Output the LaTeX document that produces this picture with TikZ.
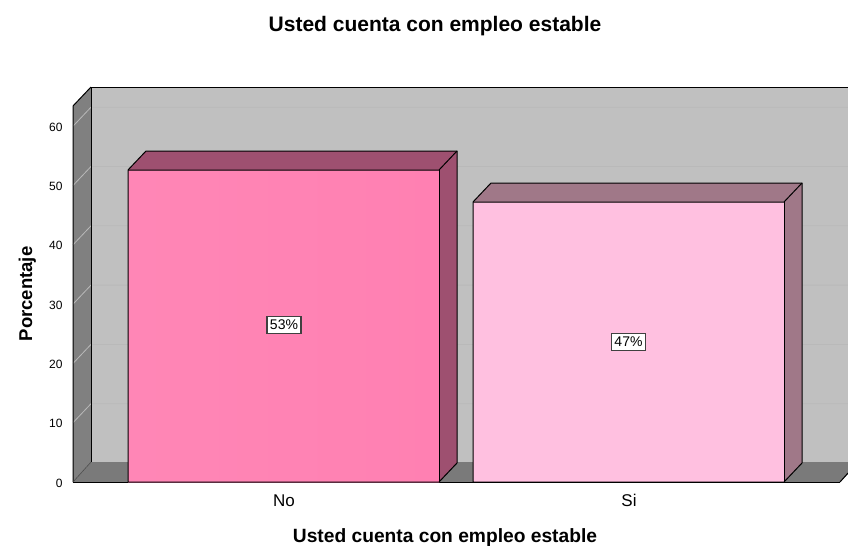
\documentclass[tikz,border=0pt]{standalone}
\usepackage{fontspec}
\setmainfont{Liberation Sans}
\begin{document}
\begin{tikzpicture}[x=1pt,y=-1pt,
  edge/.style={draw=black,line width=1pt,line join=round},
  grid/.style={draw=gray!55!white,line width=0.8pt},
  tick/.style={font=\fontsize{12}{14}\selectfont,anchor=east},
  pct/.style={draw=black!75,fill=white,line width=1.2pt,inner xsep=3pt,inner ysep=3.5pt,font=\fontsize{14}{15}\selectfont},
  cat/.style={font=\fontsize{17}{19}\selectfont,anchor=base}]
\useasboundingbox (0,0) rectangle (848,549);
\definecolor{wall}{HTML}{C0C0C0}
\definecolor{sidewall}{HTML}{808080}
\definecolor{floorc}{HTML}{7A7A7A}
\definecolor{noface}{HTML}{FF80B2}
\definecolor{nodark}{HTML}{9E5070}
\definecolor{siface}{HTML}{FFC0E0}
\definecolor{sidark}{HTML}{A07888}
\begin{scope}
\clip (0,0) rectangle (848,549);
% back wall
\fill[wall] (91,87) rectangle (860,462);
% side wall
\fill[sidewall] (73,106) -- (91,87) -- (91,462) -- (73,482) -- cycle;
% grid lines
\foreach \v in {10,20,...,60}{
  \draw[grid] (73,{482-5.93*\v}) -- (91,{463-5.93*\v}) -- (860,{463-5.93*\v});
}
% floor
\fill[floorc] (73,482) -- (91,462) -- (860,462) -- (840,482) -- cycle;
\draw[edge] (73,482) -- (840,482);
\draw[edge] (840,482) -- (848,473);
\draw[edge] (91,462) -- (91,87) -- (860,87);
\draw[edge] (73,482) -- (73,106) -- (91,87);
\draw[line width=0.6pt,draw=black!70] (73,482) -- (91,462);
\end{scope}
% bar No
\fill[left color=noface!95!white,right color=noface] (128,170) rectangle (439,482);
\fill[nodark] (128,170) -- (146,151) -- (457,151) -- (439,170) -- cycle;
\fill[nodark] (439,170) -- (457,151) -- (457,463) -- (439,482) -- cycle;
\draw[edge] (128,482) -- (128,170) -- (146,151) -- (457,151) -- (457,463) -- (439,482) -- cycle;
\draw[edge] (128,170) -- (439,170) -- (457,151);
\draw[edge] (439,170) -- (439,482);
% bar Si
\fill[siface] (473,202) rectangle (784,482);
\fill[sidark] (473,202) -- (491,183) -- (802,183) -- (784,202) -- cycle;
\fill[sidark] (784,202) -- (802,183) -- (802,463) -- (784,482) -- cycle;
\draw[edge] (473,482) -- (473,202) -- (491,183) -- (802,183) -- (802,463) -- (784,482) -- cycle;
\draw[edge] (473,202) -- (784,202) -- (802,183);
\draw[edge] (784,202) -- (784,482);
% ticks
\foreach \v in {0,10,...,60}{
  \node[tick] (t\v) at (66,{483-5.93*\v}) {\v};
}
% labels
\node[pct] (l53) at (284,325) {53\%};
\node[pct] (l47) at (628.5,342) {47\%};
\node[cat] (cno) at (284,506) {No};
\node[cat] (csi) at (629,506) {Si};
\node[font=\bfseries\fontsize{21}{24}\selectfont,anchor=base] (title) at (435,31) {Usted cuenta con empleo estable};
\node[font=\bfseries\fontsize{19.2}{22}\selectfont,anchor=base] (xlab) at (445,542) {Usted cuenta con empleo estable};
\node[font=\bfseries\fontsize{18.5}{21}\selectfont,rotate=90,anchor=base] (ylab) at (32,294) {Porcentaje};
\end{tikzpicture}
\end{document}
